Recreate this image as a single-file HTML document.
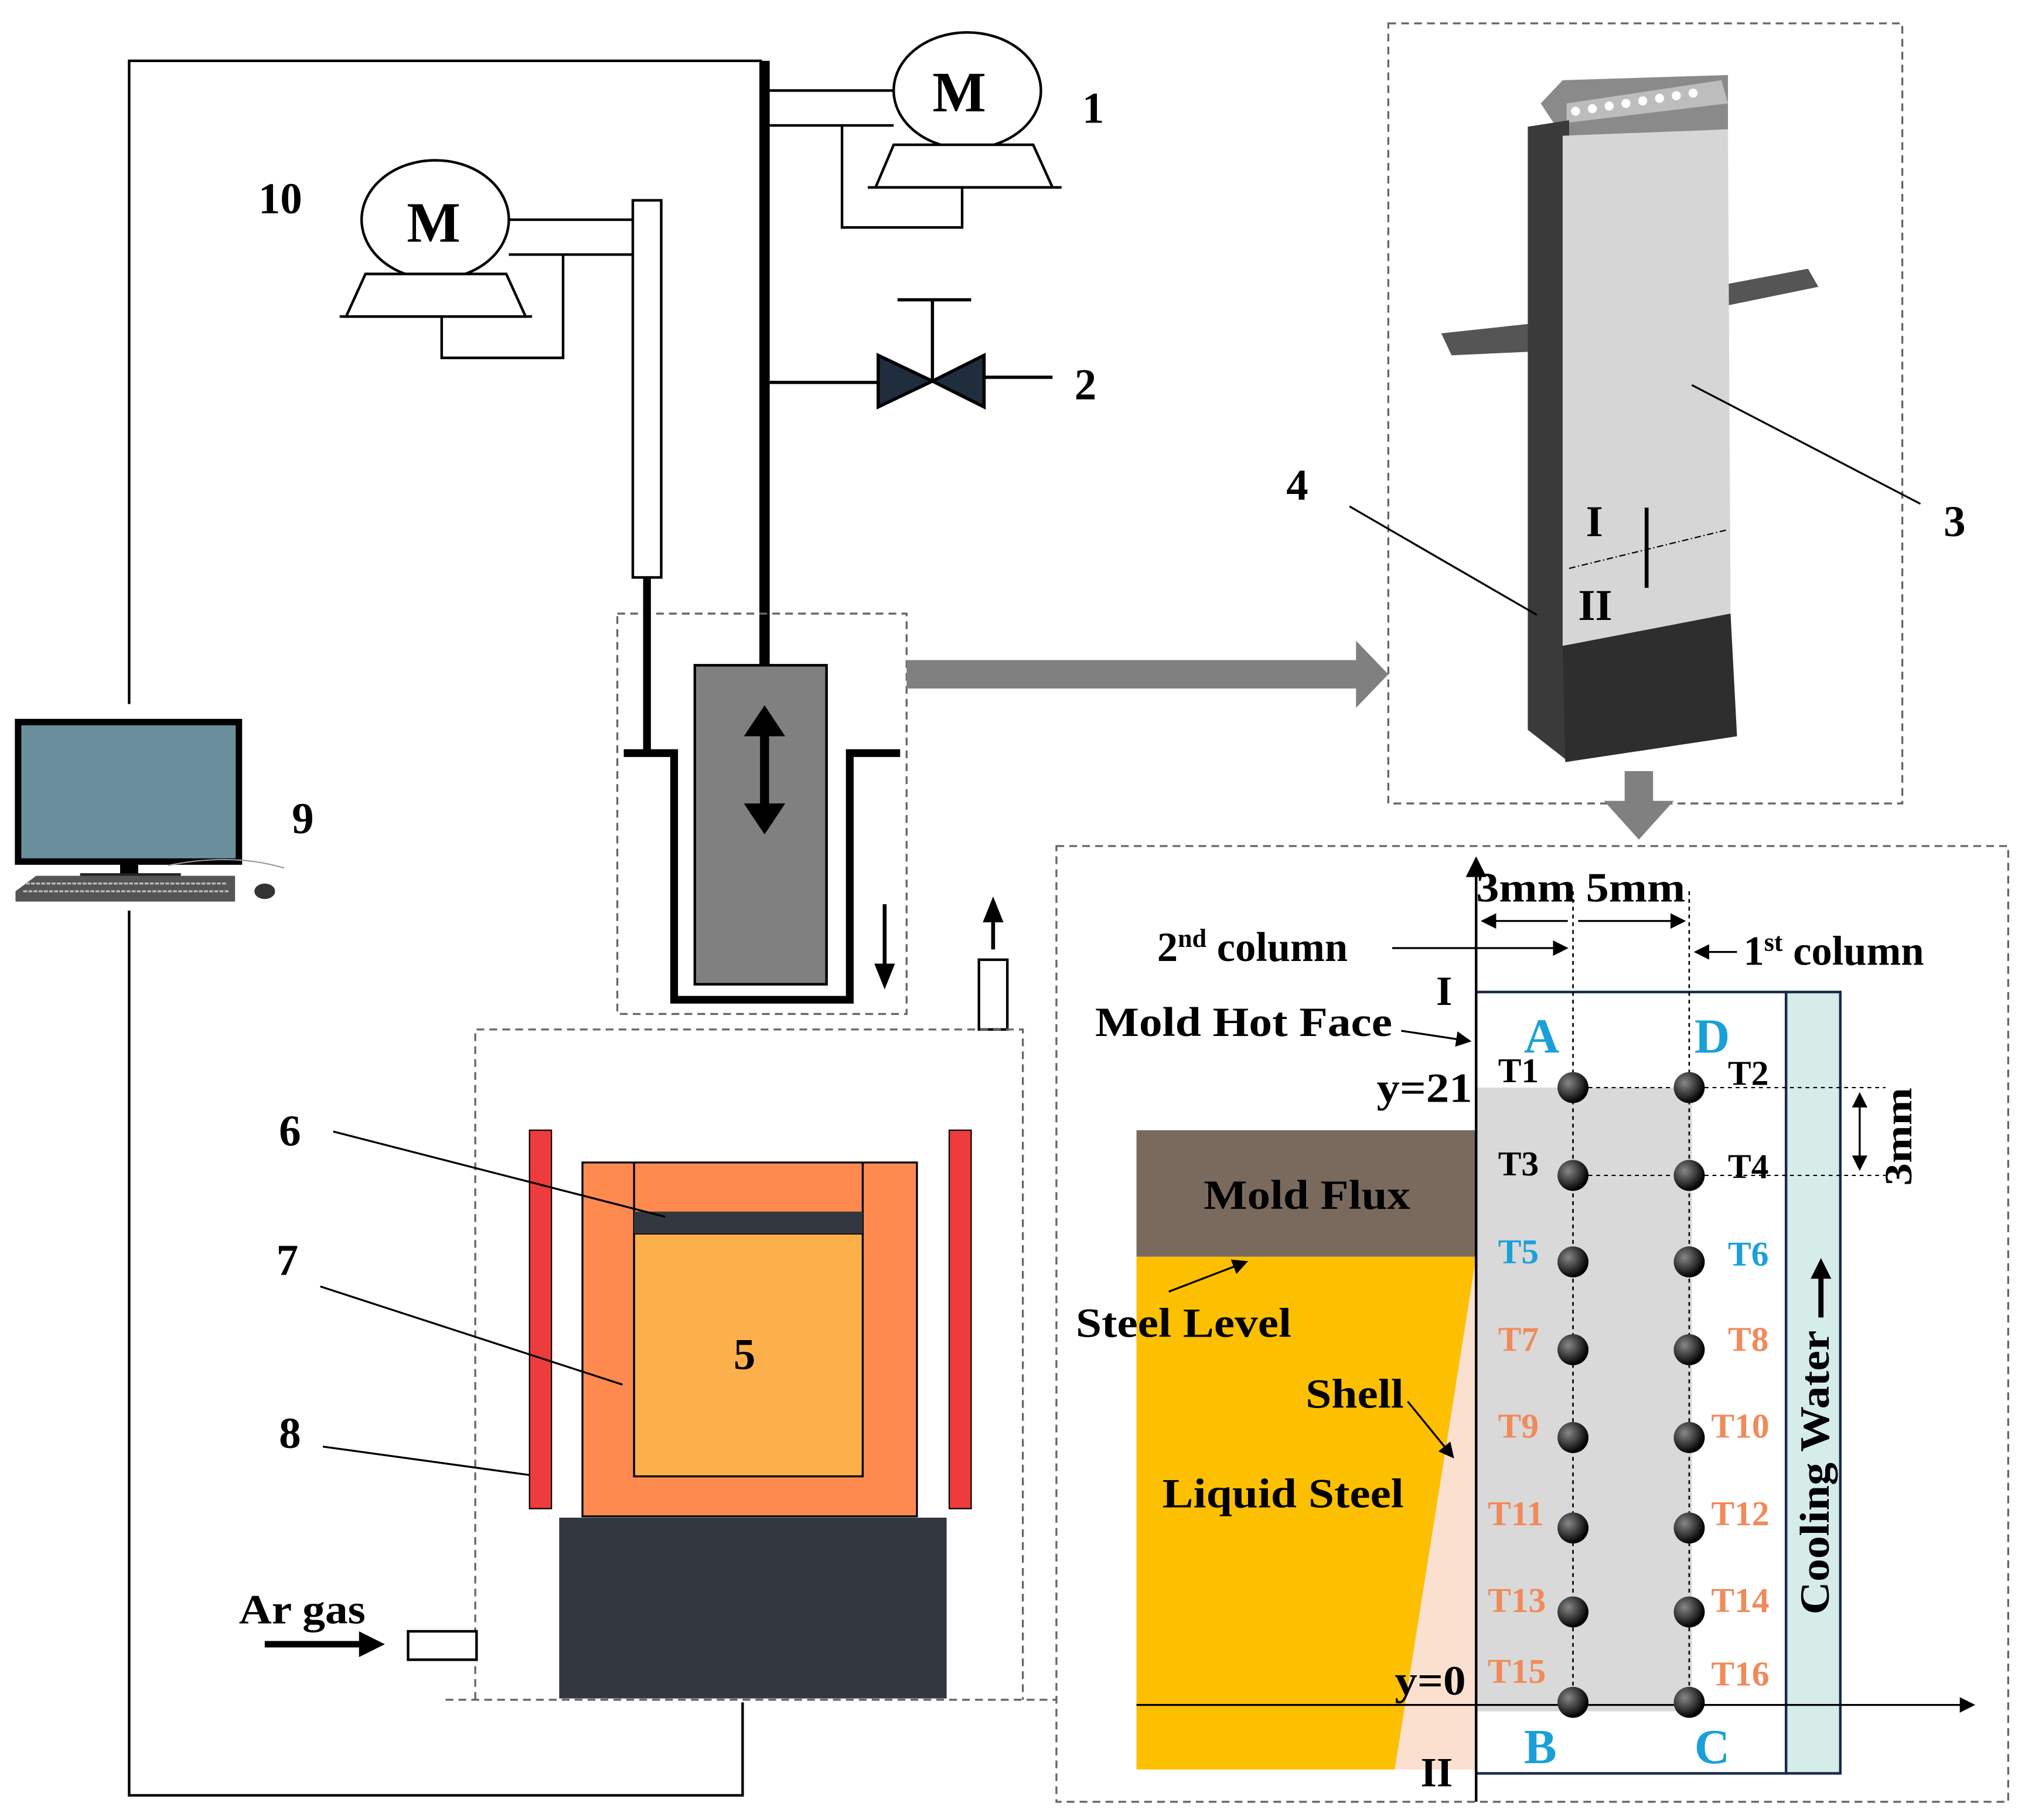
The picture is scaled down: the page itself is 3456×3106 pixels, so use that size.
<!DOCTYPE html>
<html><head><meta charset="utf-8"><style>
html,body{margin:0;padding:0;background:#fff}
svg{display:block}
text{font-family:"Liberation Serif",serif;font-weight:bold}
</style></head><body>
<svg width="3456" height="3106" viewBox="0 0 1568 1409" xmlns="http://www.w3.org/2000/svg">
<defs>
<marker id="ah" markerWidth="8" markerHeight="8" refX="7" refY="4" orient="auto"><path d="M0,0 L8,4 L0,8 z" fill="#000"/></marker>
<marker id="as" markerWidth="8" markerHeight="8" refX="1" refY="4" orient="auto"><path d="M8,0 L0,4 L8,8 z" fill="#000"/></marker>
<radialGradient id="dot" cx="35%" cy="35%" r="65%"><stop offset="0" stop-color="#888"/><stop offset="1" stop-color="#000"/></radialGradient>
</defs>
<g fill="none" stroke="#000" stroke-width="2">
<path d="M100,545 V47 H590"/>
<path d="M100,705 V1390 H575 V1318"/>
</g>
<rect x="588" y="47" width="8" height="468" fill="#000"/>
<g stroke="#000" stroke-width="2" fill="#fff">
<ellipse cx="749" cy="70" rx="57" ry="45"/>
<path d="M692,112 H800 L815,145 H678 Z"/>
<path d="M672,145 H822" fill="none"/>
<path d="M596,70 H692 M596,97 H692 M652,97 V176 H745 V145" fill="none"/>
</g>
<text x="722" y="86" font-size="44">M</text>
<text x="838" y="95" font-size="34">1</text>
<g stroke="#000" stroke-width="2.5">
<path d="M596,296 H680 M762,292 H815 M722,296 V232 M695,232 H752" fill="none"/>
<path d="M680,275 L722,295 L680,315 Z M762,275 L722,295 L762,315 Z" fill="#1f2d3d"/>
</g>
<text x="832" y="309" font-size="34">2</text>
<g stroke="#000" stroke-width="2" fill="#fff">
<ellipse cx="337" cy="170" rx="57" ry="46"/>
<path d="M283,212 H392 L407,245 H268 Z"/>
<path d="M263,245 H412 M394,170 H490 M394,197 H490 M436,197 V277 H342 V245" fill="none"/>
<rect x="490" y="155" width="22" height="292"/>
</g>
<text x="315" y="187" font-size="44">M</text>
<text x="200" y="165" font-size="34">10</text>
<rect x="478" y="475" width="224" height="310" fill="none" stroke="#666" stroke-width="1.5" stroke-dasharray="6,4"/>
<path d="M501,447 V583 H483 M501,583 H522 V774 H658 V583 H697" fill="none" stroke="#000" stroke-width="6"/>
<rect x="538" y="515" width="102" height="247" fill="#808080" stroke="#000" stroke-width="2"/>
<path d="M592,565 V628" stroke="#000" stroke-width="7"/>
<path d="M576,570 L592,546 L608,570 Z M576,622 L592,646 L608,622 Z" fill="#000"/>
<path d="M685,700 V748" stroke="#000" stroke-width="3"/><path d="M677,746 L685,766 L693,746 Z" fill="#000"/>
<path d="M769,712 V735" stroke="#000" stroke-width="3"/><path d="M761,714 L769,694 L777,714 Z" fill="#000"/>
<rect x="758" y="743" width="22" height="54" fill="#fff" stroke="#000" stroke-width="2"/>
<path d="M702,511 H1050 V496 L1075,522 L1050,548 V533 H702 Z" fill="#808080"/>
<rect x="1075" y="18" width="398" height="604" fill="none" stroke="#666" stroke-width="1.5" stroke-dasharray="6,4"/>
<path d="M1116,258 L1190,250 L1190,272 L1124,275 Z" fill="#555"/>
<path d="M1310,225 L1400,208 L1408,222 L1320,240 Z" fill="#555"/>
<path d="M1193,80 L1210,62 L1338,58 L1338,100 L1213,110 Z" fill="#8a8a8a"/>
<path d="M1213,80 L1333,62 L1338,80 L1213,95 Z" fill="#bdbdbd"/>
<g fill="#fff"><circle cx="1220" cy="86" r="3.5"/><circle cx="1233" cy="84" r="3.5"/><circle cx="1246" cy="82" r="3.5"/><circle cx="1259" cy="80" r="3.5"/><circle cx="1272" cy="78" r="3.5"/><circle cx="1285" cy="76" r="3.5"/><circle cx="1298" cy="74" r="3.5"/><circle cx="1311" cy="72" r="3.5"/></g>
<path d="M1183,98 L1215,93 L1215,590 L1183,565 Z" fill="#3a3a3a"/>
<path d="M1210,105 L1338,100 L1340,475 L1210,500 Z" fill="#d6d6d6"/>
<path d="M1210,500 L1340,475 L1345,570 L1212,590 Z" fill="#2e2e2e"/>
<path d="M1215,440 L1338,410" stroke="#000" stroke-width="1" stroke-dasharray="5,2,1,2"/>
<path d="M1275,393 V455" stroke="#000" stroke-width="3"/>
<path d="M1045,392 L1190,476 M1310,298 L1487,390" stroke="#000" stroke-width="1.5"/>
<text x="1228" y="415" font-size="34">I</text>
<text x="1222" y="480" font-size="34">II</text>
<text x="996" y="387" font-size="34">4</text>
<text x="1505" y="415" font-size="34">3</text>
<path d="M1258,597 H1280 V620 H1296 L1269,650 L1242,620 H1258 Z" fill="#808080"/>
<path d="M368,1316 V797 H792 V1316 M345,1316 H818" fill="none" stroke="#666" stroke-width="1.5" stroke-dasharray="6,4"/>
<rect x="410" y="875" width="17" height="293" fill="#ee3b3b" stroke="#000" stroke-width="1"/>
<rect x="735" y="875" width="17" height="293" fill="#ee3b3b" stroke="#000" stroke-width="1"/>
<rect x="451" y="900" width="259" height="274" fill="#ff8a50" stroke="#000" stroke-width="1.5"/>
<path d="M491,900 V1143 H668 V900" fill="none" stroke="#000" stroke-width="1.5"/>
<rect x="491" y="955" width="177" height="188" fill="#fbb04b" stroke="#000" stroke-width="1.5"/>
<rect x="491" y="938" width="177" height="17" fill="#333840"/>
<rect x="433" y="1175" width="300" height="140" fill="#333840"/>
<text x="568" y="1060" font-size="34">5</text>
<path d="M258,876 L515,942 M248,996 L482,1072 M250,1120 L410,1142" stroke="#000" stroke-width="1.5"/>
<text x="216" y="887" font-size="34">6</text>
<text x="214" y="987" font-size="34">7</text>
<text x="216" y="1121" font-size="34">8</text>
<text x="185" y="1257" font-size="32" font-weight="normal" textLength="98" lengthAdjust="spacingAndGlyphs">Ar gas</text>
<path d="M205,1273 H280" stroke="#000" stroke-width="5"/><path d="M278,1263 L298,1273 L278,1283 Z" fill="#000"/>
<rect x="316" y="1263" width="53" height="22" fill="#fff" stroke="#000" stroke-width="2"/>
<rect x="14" y="559" width="171" height="108" fill="#6a8e9c" stroke="#000" stroke-width="5"/>
<rect x="93" y="667" width="14" height="10" fill="#000"/>
<rect x="62" y="676" width="78" height="7" fill="#222"/>
<path d="M12,690 L28,678 H182 L182,698 H12 Z" fill="#555"/>
<path d="M20,684 H176 M18,690 H178" stroke="#bbb" stroke-width="1.5" stroke-dasharray="3,1"/>
<ellipse cx="205" cy="690" rx="8" ry="6" fill="#333"/>
<path d="M130,670 Q180,660 220,672" stroke="#999" fill="none"/>
<text x="226" y="645" font-size="34">9</text>
<rect x="818" y="655" width="737" height="740" fill="none" stroke="#666" stroke-width="1.5" stroke-dasharray="6,4"/>
<rect x="880" y="875" width="263" height="98" fill="#7a6a5e"/>
<rect x="880" y="973" width="263" height="397" fill="#fdc000"/>
<path d="M1143,973 L1143,1370 L1080,1370 Z" fill="#fbe0d0"/>
<rect x="1143" y="842" width="167" height="483" fill="#d9d9d9"/>
<rect x="1143" y="768" width="240" height="605" fill="none" stroke="#1a2a4a" stroke-width="2"/>
<rect x="1383" y="768" width="42" height="605" fill="#d5ece9" stroke="#1a2a4a" stroke-width="2"/>
<path d="M1143,1395 V665" stroke="#000" stroke-width="2" marker-end="url(#ah)"/>
<path d="M880,1320 H1528" stroke="#000" stroke-width="1.5" marker-end="url(#ah)"/>
<path d="M1218,690 V1320 M1308,690 V1320" stroke="#000" stroke-width="1.2" stroke-dasharray="3,3"/>
<path d="M1218,842 H1460 M1308,910 H1460" stroke="#000" stroke-width="1" stroke-dasharray="3,3"/>
<path d="M1218,910 H1308" stroke="#000" stroke-width="1" stroke-dasharray="3,3"/>
<path d="M1148,713 H1214 M1222,713 H1304" stroke="#000" stroke-width="1.5" marker-end="url(#ah)" marker-start="url(#as)"/>
<path d="M1440,847 V905" stroke="#000" stroke-width="1.5" marker-end="url(#ah)" marker-start="url(#as)"/>
<path d="M1078,734 H1213" stroke="#000" stroke-width="1.5" marker-end="url(#ah)"/>
<path d="M1345,737 H1313" stroke="#000" stroke-width="1.5" marker-end="url(#ah)"/>
<path d="M1085,798 L1138,806" stroke="#000" stroke-width="1.5" marker-end="url(#ah)"/>
<path d="M905,1000 L965,977" stroke="#000" stroke-width="1.5" marker-end="url(#ah)"/>
<path d="M1090,1085 L1125,1128" stroke="#000" stroke-width="1.5" marker-end="url(#ah)"/>
<path d="M1410,1020 V985" stroke="#000" stroke-width="4"/><path d="M1402,990 L1410,974 L1418,990 Z" fill="#000"/>
<g fill="url(#dot)">
<circle cx="1218" cy="842" r="12"/><circle cx="1308" cy="842" r="12"/>
<circle cx="1218" cy="910" r="12"/><circle cx="1308" cy="910" r="12"/>
<circle cx="1218" cy="977" r="12"/><circle cx="1308" cy="977" r="12"/>
<circle cx="1218" cy="1045" r="12"/><circle cx="1308" cy="1045" r="12"/>
<circle cx="1218" cy="1113" r="12"/><circle cx="1308" cy="1113" r="12"/>
<circle cx="1218" cy="1183" r="12"/><circle cx="1308" cy="1183" r="12"/>
<circle cx="1218" cy="1248" r="12"/><circle cx="1308" cy="1248" r="12"/>
<circle cx="1218" cy="1318" r="12"/><circle cx="1308" cy="1318" r="12"/>
</g>
<g font-size="32">
<text x="1143" y="698" textLength="77" lengthAdjust="spacingAndGlyphs">3mm</text><text x="1228" y="698" textLength="77" lengthAdjust="spacingAndGlyphs">5mm</text>
<text x="896" y="744">2<tspan font-size="20" dy="-11">nd</tspan><tspan dy="11"> column</tspan></text>
<text x="1350" y="747">1<tspan font-size="20" dy="-11">st</tspan><tspan dy="11"> column</tspan></text>
<text x="848" y="802" textLength="230" lengthAdjust="spacingAndGlyphs">Mold Hot Face</text>
<text x="1066" y="853" textLength="74" lengthAdjust="spacingAndGlyphs">y=21</text>
<text x="1112" y="778" font-size="32">I</text>
<text x="932" y="936" textLength="160" lengthAdjust="spacingAndGlyphs">Mold Flux</text>
<text x="833" y="1035" textLength="167" lengthAdjust="spacingAndGlyphs">Steel Level</text>
<text x="1011" y="1090" textLength="76" lengthAdjust="spacingAndGlyphs">Shell</text>
<text x="900" y="1167" textLength="187" lengthAdjust="spacingAndGlyphs">Liquid Steel</text>
<text x="1080" y="1312" textLength="55" lengthAdjust="spacingAndGlyphs">y=0</text>
<text x="1100" y="1383" font-size="32">II</text>
</g>
<g font-size="38" fill="#1aa0d8">
<text x="1180" y="815">A</text><text x="1312" y="815">D</text>
<text x="1180" y="1365">B</text><text x="1312" y="1365">C</text>
</g>
<g font-size="27">
<text x="1160" y="838">T1</text><text x="1338" y="840">T2</text>
<text x="1160" y="910">T3</text><text x="1338" y="912">T4</text>
<text x="1160" y="978" fill="#1aa0d8">T5</text><text x="1338" y="980" fill="#1aa0d8">T6</text>
<g fill="#f08a5a">
<text x="1160" y="1046">T7</text><text x="1338" y="1046">T8</text>
<text x="1160" y="1113">T9</text><text x="1325" y="1113">T10</text>
<text x="1152" y="1181">T11</text><text x="1325" y="1181">T12</text>
<text x="1152" y="1248">T13</text><text x="1325" y="1248">T14</text>
<text x="1152" y="1303">T15</text><text x="1325" y="1305">T16</text>
</g>
</g>
<text transform="translate(1416,1250) rotate(-90)" font-size="32" textLength="220" lengthAdjust="spacingAndGlyphs">Cooling Water</text>
<text transform="translate(1480,918) rotate(-90)" font-size="30" textLength="76" lengthAdjust="spacingAndGlyphs">3mm</text>
</svg>
</body></html>
